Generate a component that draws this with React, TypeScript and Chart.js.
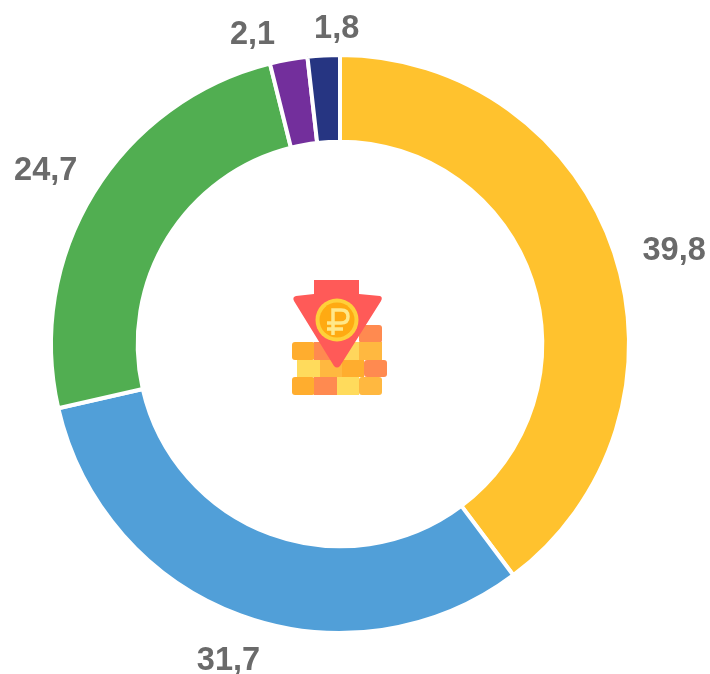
import React, { useEffect, useRef } from "react";
import { Chart, registerables } from "chart.js";

Chart.register(...registerables);

const categories = ["A", "B", "C", "D", "E"];
const seriesValues = [39.8, 31.7, 24.7, 2.1, 1.8];
const tickLabels = ["39,8", "31,7", "24,7", "2,1", "1,8"];
const sliceColors = ["#FFC22E", "#519FD8", "#51AE51", "#732F9C", "#263582"];
const labelOffsets = [[60, -2], [-12, 46], [-48, -22], [-36, -25], [13, -26]];

const labelPlugin = {
  id: "outerLabels",
  afterDatasetsDraw(chart: any) {
    const { ctx } = chart;
    const arcs = chart.getDatasetMeta(0).data;
    ctx.save();
    ctx.font = 'bold 32.5px "Liberation Sans"';
    ctx.fillStyle = "#6A6A6A";
    ctx.textAlign = "center";
    ctx.textBaseline = "middle";
    arcs.forEach((arc: any, i: number) => {
      const mid = (arc.startAngle + arc.endAngle) / 2;
      const x = arc.x + Math.cos(mid) * arc.outerRadius + labelOffsets[i][0];
      const y = arc.y + Math.sin(mid) * arc.outerRadius + labelOffsets[i][1];
      ctx.fillText(tickLabels[i], x, y);
    });
    ctx.restore();
  },
};

function Icon() {
  return (
    <svg width="710" height="674" style={{ position: "absolute", left: 0, top: 0, pointerEvents: "none" }}>
      <rect x="359" y="325" width="23" height="18" rx="3" fill="#FF8A50" />
      <rect x="292" y="342" width="23" height="18" rx="3" fill="#FFAD2E" />
      <rect x="314" y="342" width="23" height="18" fill="#FF8A50" />
      <rect x="337" y="342" width="22" height="18" fill="#FFD65C" />
      <rect x="359" y="342" width="23" height="18" fill="#FFB840" />
      <rect x="297" y="360" width="23" height="17" fill="#FFDB5C" />
      <rect x="320" y="360" width="22" height="17" fill="#FFB840" />
      <rect x="342" y="360" width="22" height="17" fill="#FFAD2E" />
      <rect x="364" y="360" width="23" height="17" rx="3" fill="#FF8A50" />
      <rect x="292" y="377" width="23" height="18" rx="3" fill="#FFAD2E" />
      <rect x="314" y="377" width="23" height="18" fill="#FF8A50" />
      <rect x="337" y="377" width="22" height="18" fill="#FFDB5C" />
      <rect x="359" y="377" width="23" height="18" rx="3" fill="#FFB840" />
      <path
        d="M314 280 H359 V294 L380 296 Q383 297 381 301 L340 366 Q337 369 334 366 L294 301 Q292 297 296 296 L314 294 Z"
        fill="#FF5A58"
      />
      <circle cx="337" cy="320" r="21.5" fill="#FFD03A" />
      <circle cx="337" cy="320" r="17.5" fill="#FFAA12" />
      <path d="M333 335 V310 H341 Q348 310 348 316.5 Q348 323 341 323 H327 M327 329 H343" fill="none" stroke="#FFE88A" strokeWidth="3.5" />
    </svg>
  );
}

export default function App() {
  const ref = useRef<HTMLCanvasElement>(null);
  useEffect(() => {
    const chart = new Chart(ref.current!, {
      type: "doughnut",
      data: {
        labels: categories,
        datasets: [
          {
            data: seriesValues,
            backgroundColor: sliceColors,
            borderColor: "#FFFFFF",
            borderWidth: 4,
          },
        ],
      },
      options: {
        responsive: false,
        animation: false,
        cutout: "70%",
        layout: { padding: { left: 49, right: 79, top: 53, bottom: 39 } },
        plugins: { legend: { display: false }, tooltip: { enabled: false } },
      },
      plugins: [labelPlugin],
    } as any);
    return () => chart.destroy();
  }, []);
  return (
    <div style={{ position: "absolute", left: 0, top: 0, width: 710, height: 674, background: "#fff" }}>
      <canvas ref={ref} width={710} height={674} style={{ display: "block" }} />
      <Icon />
    </div>
  );
}
